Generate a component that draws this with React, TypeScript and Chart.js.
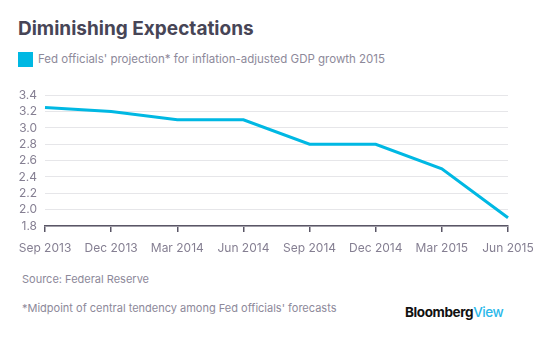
import React, { useEffect, useRef } from "react";
import { Chart, registerables } from "chart.js";

Chart.register(...registerables);

const categories = ["Sep 2013", "Dec 2013", "Mar 2014", "Jun 2014", "Sep 2014", "Dec 2014", "Mar 2015", "Jun 2015"];
const gdpProjection = [3.25, 3.2, 3.1, 3.1, 2.8, 2.8, 2.5, 1.9];
const yMin = 1.8;
const yMax = 3.4;
const yStep = 0.2;

const FONT = "Inter, 'Noto Sans', sans-serif";
const LABEL_COLOR = "#857f92";

export default function App() {
  const ref = useRef<HTMLCanvasElement | null>(null);

  useEffect(() => {
    if (!ref.current) return;
    const chart = new Chart(ref.current, {
      type: "line",
      data: {
        labels: categories,
        datasets: [
          {
            data: gdpProjection,
            borderColor: "#00b8e3",
            borderWidth: 3,
            pointRadius: 0,
            tension: 0,
            fill: false,
          },
        ],
      },
      options: {
        animation: false,
        responsive: false,
        maintainAspectRatio: false,
        layout: { padding: { top: 12, right: 44, bottom: 0, left: 0 } },
        plugins: { legend: { display: false }, tooltip: { enabled: false } },
        scales: {
          x: {
            offset: false,
            grid: { drawOnChartArea: false, drawTicks: true, tickLength: 6, color: "#5a5666", lineWidth: 1.5 },
            border: { display: true, color: "#5a5666", width: 1.5 },
            ticks: { color: LABEL_COLOR, font: { family: FONT, size: 12 }, padding: 9, maxRotation: 0, autoSkip: false },
            afterFit: (s: any) => { s.height = 34; },
          },
          y: {
            min: yMin,
            max: yMax,
            grid: { color: "#e6e6e9", lineWidth: 1, drawTicks: false },
            border: { display: false },
            ticks: {
              stepSize: yStep,
              autoSkip: false,
              color: LABEL_COLOR,
              font: { family: FONT, size: 12 },
              padding: 8,
              callback: (v: any) => Number(v).toFixed(1),
            },
            afterFit: (s: any) => { s.width = 45; },
          },
        },
      },
    });
    return () => chart.destroy();
  }, []);

  return (
    <div style={{ position: "absolute", left: 0, top: 0, width: 552, height: 346, background: "#fff", fontFamily: FONT, overflow: "hidden" }}>
      <div style={{ position: "absolute", left: 18, top: 17, fontSize: 19, fontWeight: 700, color: "#474556", whiteSpace: "nowrap" }}>
        Diminishing Expectations
      </div>
      <div style={{ position: "absolute", left: 18, top: 52, width: 15, height: 15, background: "#00b8e3" }} />
      <div style={{ position: "absolute", left: 38, top: 52, fontSize: 11.5, color: "#8d899a", whiteSpace: "nowrap" }}>
        Fed officials' projection* for inflation-adjusted GDP growth 2015
      </div>
      <canvas ref={ref} width={552} height={180} style={{ position: "absolute", left: 0, top: 80, width: 552, height: 180 }} />
      <div style={{ position: "absolute", left: 22, top: 272, fontSize: 11, color: "#8d899a", whiteSpace: "nowrap" }}>
        Source: Federal Reserve
      </div>
      <div style={{ position: "absolute", left: 22, top: 301, fontSize: 11, color: "#8d899a", whiteSpace: "nowrap" }}>
        *Midpoint of central tendency among Fed officials' forecasts
      </div>
      <div style={{ position: "absolute", left: 405, top: 304, fontSize: 13.5, fontWeight: 700, letterSpacing: -0.4, whiteSpace: "nowrap" }}>
        <span style={{ color: "#111" }}>Bloomberg</span>
        <span style={{ color: "#2ab8ea", fontWeight: 500 }}>View</span>
      </div>
    </div>
  );
}
